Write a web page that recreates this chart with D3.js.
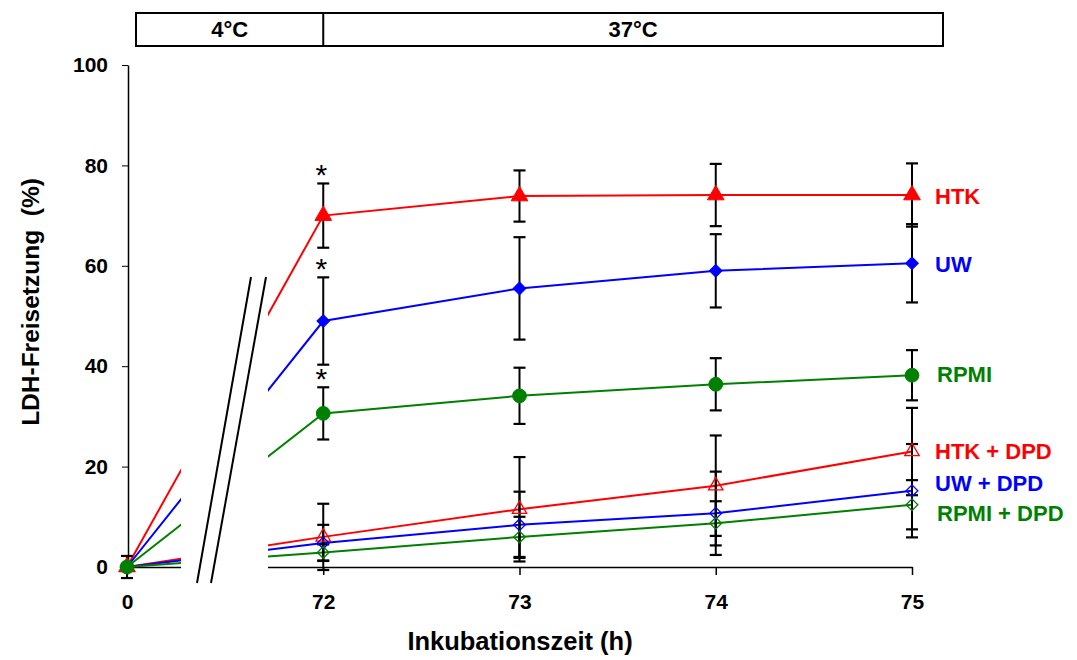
<!DOCTYPE html>
<html><head><meta charset="utf-8">
<script src="https://cdn.jsdelivr.net/npm/d3@7"></script>
<style>
body{margin:0;background:#fff;}
text{font-family:"Liberation Sans",Arial,sans-serif;}
</style></head>
<body><svg id="c" width="1077" height="660"></svg>
<script>
const times = ["0","72","73","74","75"];
const yTicks = [0,20,40,60,80,100];
const phases = ["4°C","37°C"];
const seriesNames = ["HTK + DPD","UW + DPD","RPMI + DPD","HTK","UW","RPMI"];
const seriesColors = ["#ff0000","#0000ff","#008000","#ff0000","#0000ff","#008000"];
const seriesMarkers = ["triangle-open","diamond-open","diamond-open","triangle","diamond","circle"];
const htkDpd   = [0, 6.0, 11.5, 16.2, 23.0];
const htkDpdErr= [0, 6.6, 10.4, 10.0, 8.7];
const uwDpd    = [0, 4.8, 8.4, 10.7, 15.2];
const uwDpdErr = [0, 3.6, 6.6, 8.3, 9.3];
const rpmiDpd  = [0, 2.9, 6.0, 8.7, 12.4];
const rpmiDpdErr=[0, 1.6, 4.0, 4.4, 4.9];
const htk      = [0, 70.0, 73.9, 74.1, 74.1];
const htkErr   = [2.2, 6.4, 5.1, 6.2, 6.3];
const uw       = [0, 49.0, 55.5, 59.0, 60.5];
const uwErr    = [0, 8.7, 10.2, 7.3, 7.8];
const rpmi     = [0, 30.6, 34.1, 36.4, 38.2];
const rpmiErr  = [0, 5.2, 5.6, 5.2, 5.0];
const seriesValues = [htkDpd, uwDpd, rpmiDpd, htk, uw, rpmi];
const seriesErrors = [htkDpdErr, uwDpdErr, rpmiDpdErr, htkErr, uwErr, rpmiErr];
const starSeries = [3,4,5]; // significance asterisks at 72 h

const svg = d3.select("#c");
const x = d3.scalePoint().domain(times).range([127, 912]);
const y = d3.scaleLinear().domain([0,100]).range([567, 65]);

// header box
const hdr = svg.append("g");
const hx0 = 136, hx1 = 943, hmid = x("72"), hy0 = 13, hy1 = 46;
hdr.append("rect").attr("x",hx0).attr("y",hy0).attr("width",hx1-hx0).attr("height",hy1-hy0)
  .attr("fill","none").attr("stroke","#000").attr("stroke-width",2);
hdr.append("line").attr("x1",hmid).attr("x2",hmid).attr("y1",hy0).attr("y2",hy1).attr("stroke","#000").attr("stroke-width",2);
hdr.selectAll("text").data(phases).join("text")
  .attr("x",(d,i)=> i===0 ? (hx0+hmid)/2 : (hmid+hx1)/2)
  .attr("y",(hy0+hy1)/2).attr("dy","0.36em").attr("text-anchor","middle")
  .attr("font-size",22).attr("font-weight","bold").text(d=>d);

// axes
const yAxis = svg.append("g").attr("transform",`translate(${x("0")+1},0)`)
  .call(d3.axisLeft(y).tickValues(yTicks).tickSize(6).tickPadding(14).tickSizeOuter(0));
yAxis.select(".domain").attr("stroke-width",1.5);
yAxis.selectAll("text").attr("font-size",21).attr("font-weight","bold").attr("font-family","Liberation Sans, Arial, sans-serif");
const xAxis = svg.append("g").attr("transform",`translate(0,${y(0)})`)
  .call(d3.axisBottom(x).tickSize(8).tickPadding(19).tickSizeOuter(0));
xAxis.select(".domain").attr("stroke-width",1.5);
xAxis.selectAll("line").attr("stroke-width",1.5);
xAxis.selectAll("text").attr("font-size",21).attr("font-weight","bold").attr("font-family","Liberation Sans, Arial, sans-serif");

// axis titles
svg.append("text").attr("transform","translate(39,302) rotate(-90)").attr("text-anchor","middle")
  .attr("font-size",24.5).attr("font-weight","bold").attr("xml:space","preserve").text("LDH-Freisetzung  (%)");
svg.append("text").attr("x",520).attr("y",650).attr("text-anchor","middle")
  .attr("font-size",25.5).attr("font-weight","bold").text("Inkubationszeit (h)");

// lines
const line = d3.line().x((d,i)=>x(times[i])).y(d=>y(d));
const order = [0,1,2,3,4,5];
svg.append("g").selectAll("path").data(order).join("path")
  .attr("d",k=>line(seriesValues[k])).attr("fill","none")
  .attr("stroke",k=>seriesColors[k]).attr("stroke-width",2);

// axis break mask
const bx0 = x("0") + 54, bx1 = x("0") + 141;
svg.append("rect").attr("x",bx0).attr("y",260).attr("width",bx1-bx0).attr("height",y(0)-260+4).attr("fill","#fff");
[[197,251],[211,266]].forEach(([a,b])=>{
  svg.append("line").attr("x1",a).attr("y1",583).attr("x2",b).attr("y2",277)
    .attr("stroke","#000").attr("stroke-width",2);
});

// error bars
const eb = svg.append("g");
order.forEach(k=>{
  seriesValues[k].forEach((v,i)=>{
    const e = seriesErrors[k][i];
    if(!e) return;
    const cx = x(times[i]);
    eb.append("line").attr("x1",cx).attr("x2",cx).attr("y1",y(v-e)).attr("y2",y(v+e)).attr("stroke","#000").attr("stroke-width",2);
    [v-e, v+e].forEach(t=>{
      eb.append("line").attr("x1",cx-6).attr("x2",cx+6).attr("y1",y(t)).attr("y2",y(t)).attr("stroke","#000").attr("stroke-width",2.2);
    });
  });
});

// markers
const mk = svg.append("g");
const symMap = {
  "triangle":[d3.symbolTriangle,120,true,0], "triangle-open":[d3.symbolTriangle,90,false,0],
  "diamond":[d3.symbolSquare,80,true,45], "diamond-open":[d3.symbolSquare,68,false,45],
  "circle":[d3.symbolCircle,150,true,0]
};
order.forEach(k=>{
  const [type,size,filled,rot] = symMap[seriesMarkers[k]];
  const sym = d3.symbol().type(type).size(size);
  mk.selectAll(null).data(seriesValues[k]).join("path")
    .attr("d",sym).attr("transform",(d,i)=>`translate(${x(times[i])},${y(d)}) rotate(${rot})`)
    .attr("fill",filled?seriesColors[k]:"#fff").attr("fill-opacity",filled?1:0)
    .attr("stroke",seriesColors[k]).attr("stroke-width",filled?1:1.3);
});

// asterisks
svg.append("g").selectAll("text").data(starSeries).join("text")
  .attr("x",x("72")-2).attr("y",k=>y(seriesValues[k][1]+seriesErrors[k][1])+2)
  .attr("text-anchor","middle").attr("font-size",30).text("*");

// series labels
const labelY = [451,483,513,196,264,374];
svg.append("g").selectAll("text").data(order).join("text")
  .attr("x",k=> (k===2||k===5)?937:935).attr("y",k=>labelY[k]).attr("dy","0.36em")
  .attr("font-size",22).attr("font-weight","bold").attr("fill",k=>seriesColors[k])
  .text(k=>seriesNames[k]);
</script></body></html>
